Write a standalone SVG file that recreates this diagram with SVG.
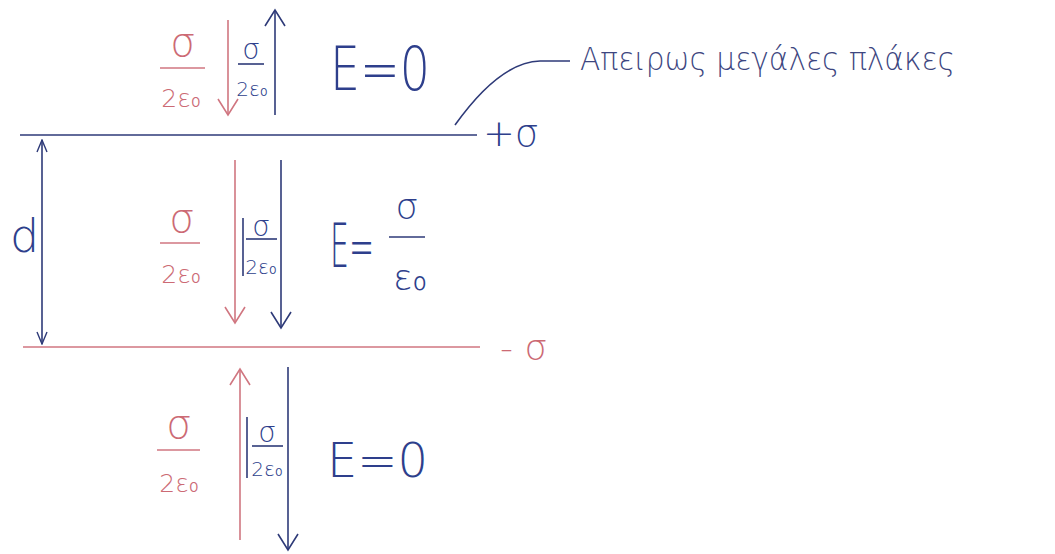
<svg xmlns="http://www.w3.org/2000/svg" width="1055" height="554" viewBox="0 0 1055 554">
<style>
text{font-family:"DejaVu Sans","Liberation Sans",sans-serif;font-weight:200;}
.r{fill:#cc6a74;}
.b{fill:#2e3f8c;}
.rl{stroke:#d07680;stroke-width:1.6;fill:none;}
.bl{stroke:#2e3a78;stroke-width:1.6;fill:none;}
.m{text-anchor:middle;}
</style>
<defs>
<marker id="ar" markerUnits="userSpaceOnUse" markerWidth="22" markerHeight="22" viewBox="0 0 20 22" refX="18" refY="11" orient="auto"><path d="M2,1 L18,11 L2,21" fill="none" stroke="#d07680" stroke-width="1.6"/></marker>
<marker id="ab" markerUnits="userSpaceOnUse" markerWidth="22" markerHeight="22" viewBox="0 0 20 22" refX="18" refY="11" orient="auto"><path d="M2,1 L18,11 L2,21" fill="none" stroke="#2e3a78" stroke-width="1.6"/></marker>
<marker id="as" markerUnits="userSpaceOnUse" markerWidth="14" markerHeight="12" viewBox="0 0 14 12" refX="13" refY="6" orient="auto-start-reverse"><path d="M1,1 L13,6 L1,11" fill="none" stroke="#2e3a78" stroke-width="1.4"/></marker>
</defs>

<g id="plates">
<line class="bl" x1="20" y1="135" x2="477" y2="135"/>
<line class="rl" x1="23" y1="347" x2="480" y2="347"/>
<text class="b" x="483" y="146" font-size="38">+σ</text>
<text class="r" x="500" y="360" font-size="36">- σ</text>
</g>

<g id="connectors">
<line class="bl" x1="42" y1="140" x2="42" y2="344" marker-start="url(#as)" marker-end="url(#as)"/>
<line class="rl" x1="228" y1="20" x2="228" y2="115" marker-end="url(#ar)"/>
<line class="bl" x1="275" y1="115" x2="275" y2="10" marker-end="url(#ab)"/>
<line class="rl" x1="235" y1="160" x2="235" y2="323" marker-end="url(#ar)"/>
<line class="bl" x1="281" y1="160" x2="281" y2="328" marker-end="url(#ab)"/>
<line class="rl" x1="240" y1="540" x2="240" y2="369" marker-end="url(#ar)"/>
<line class="bl" x1="288" y1="367" x2="288" y2="550" marker-end="url(#ab)"/>
<path class="bl" d="M455,125 Q500,62 540,61 L570,61" stroke-width="1.2"/>
</g>

<g id="d-label"><text class="b" x="10" y="252" font-size="46">d</text></g>

<g id="top-region">
<text class="r m" x="183" y="56" font-size="40">σ</text>
<line class="rl" x1="160" y1="68" x2="205" y2="68"/>
<text class="r m" x="181" y="107" font-size="25">2ε₀</text>
<text class="b m" x="251" y="59" font-size="28">σ</text>
<line class="bl" x1="238" y1="64" x2="264" y2="64"/>
<text class="b m" x="252" y="96" font-size="20">2ε₀</text>
<text class="b" x="330" y="90" font-size="60" textLength="100" lengthAdjust="spacingAndGlyphs">E=0</text>
</g>

<g id="middle-region">
<text class="r m" x="182" y="232" font-size="40">σ</text>
<line class="rl" x1="160" y1="243" x2="200" y2="243"/>
<text class="r m" x="181" y="283" font-size="25">2ε₀</text>
<line class="bl" x1="243" y1="218" x2="243" y2="276"/>
<text class="b m" x="261" y="236" font-size="28">σ</text>
<line class="bl" x1="246" y1="239" x2="277" y2="239"/>
<text class="b m" x="261" y="274" font-size="20">2ε₀</text>
<text class="b" transform="translate(330,267) scale(0.5,1)" font-size="60">E=</text>
<text class="b m" x="407" y="219" font-size="36">σ</text>
<line class="bl" x1="389" y1="237" x2="425" y2="237"/>
<text class="b m" x="410" y="290" font-size="36">ε₀</text>
</g>

<g id="bottom-region">
<text class="r m" x="179" y="438" font-size="40">σ</text>
<line class="rl" x1="157" y1="450" x2="200" y2="450"/>
<text class="r m" x="179" y="492" font-size="25">2ε₀</text>
<line class="bl" x1="247" y1="417" x2="247" y2="478"/>
<text class="b m" x="267" y="442" font-size="28">σ</text>
<line class="bl" x1="252" y1="446" x2="283" y2="446"/>
<text class="b m" x="267" y="476" font-size="20">2ε₀</text>
<text class="b" x="327" y="477" font-size="48" textLength="101" lengthAdjust="spacingAndGlyphs">E=0</text>
</g>

<g id="annotation">
<text x="580" y="70" font-size="32" fill="#3d4680" textLength="375" lengthAdjust="spacingAndGlyphs">Απειρως μεγάλες πλάκες</text>
</g>
</svg>
